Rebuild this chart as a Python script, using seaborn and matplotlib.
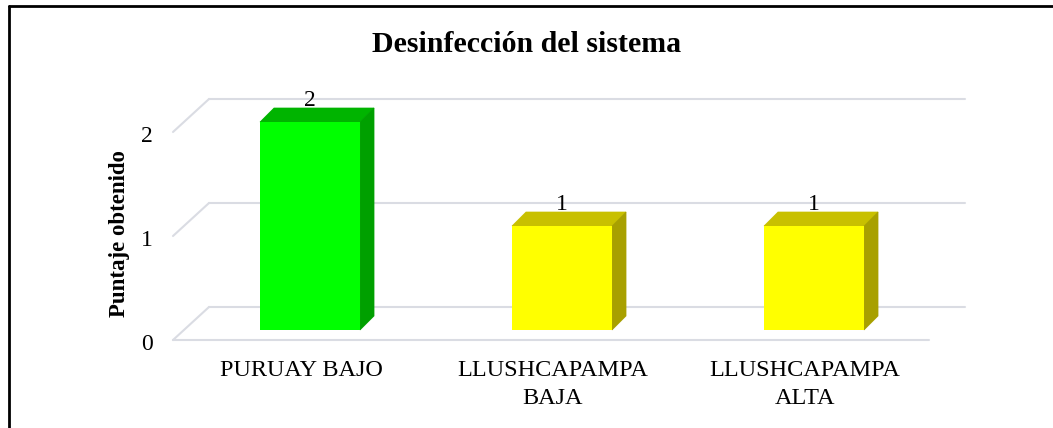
import numpy as np
import pandas as pd
import matplotlib
matplotlib.use("Agg")
import matplotlib.pyplot as plt
import seaborn as sns
from matplotlib.patches import Polygon
from matplotlib.lines import Line2D

# datos del grafico
zonas = ["PURUAY BAJO", "LLUSHCAPAMPA\nBAJA", "LLUSHCAPAMPA\nALTA"]
puntajes = [2, 1, 1]
ticks_y = [0, 1, 2]
colores = ["#00FF00", "#FFFF00", "#FFFF00"]
colores_top = ["#00B400", "#C8C000", "#C8C000"]
colores_lado = ["#00A000", "#A8A000", "#A8A000"]

df = pd.DataFrame({"zona": zonas, "puntaje": puntajes})

sns.set_style("white")
plt.rcParams["font.family"] = ["Liberation Serif", "DejaVu Serif"]
plt.rcParams["text.color"] = "black"

DPI = 100
W, H = 1053, 428
fig = plt.figure(figsize=(W / DPI, H / DPI), dpi=DPI)
ax = fig.add_axes([184 / W, (H - 330) / H, 756 / W, 208 / H])

sns.barplot(data=df, x="zona", y="puntaje", hue="zona", palette=colores,
            saturation=1, width=0.397, legend=False, ax=ax, zorder=3,
            linewidth=0)
ax.set_xlim(-0.5, 2.5)
ax.set_ylim(0, 2)
for s in ax.spines.values():
    s.set_visible(False)
ax.set_facecolor("none")
ax.set_xlabel("")
ax.set_ylabel("")
ax.set_yticks([])
ax.set_xticks([])


def shift(x, y, dx, dy):
    # desplaza un punto de datos dx, dy pixeles (efecto 3D)
    px, py = ax.transData.transform((x, y))
    return ax.transData.inverted().transform((px + dx, py + dy))


# paredes y piso (efecto 3D)
gris = "#DADCE3"
x0, x1 = ax.get_xlim()
for v in ticks_y:
    a, b = shift(x0, v, 25, 23), shift(x1, v, 25, 23)
    ax.add_line(Line2D([a[0], b[0]], [a[1], b[1]], color=gris, lw=1.5, zorder=1, clip_on=False))
    c, d = shift(x0, v, -11, -10), shift(x0, v, 25, 23)
    ax.add_line(Line2D([c[0], d[0]], [c[1], d[1]], color=gris, lw=1.5, zorder=1, clip_on=False))
    t = shift(x0, v, -31, -14)
    ax.text(t[0], t[1], str(v), ha="right", va="center", fontsize=17,
            color="black", clip_on=False)
a, b = shift(x0, 0, -11, -10), shift(x1, 0, -11, -10)
ax.add_line(Line2D([a[0], b[0]], [a[1], b[1]], color=gris, lw=1.5, zorder=1, clip_on=False))

# etiquetas de categorias (frente del piso)
for i, z in enumerate(zonas):
    t = shift(i, 0, -9, -30)
    ax.text(t[0], t[1], z, ha="center", va="top", fontsize=17.5, color="black",
            linespacing=1.45, clip_on=False)

# caras superior y lateral de las barras
D = 14
for i, p in enumerate(ax.patches):
    bx0, bx1, h = p.get_x(), p.get_x() + p.get_width(), p.get_height()
    top = [(bx0, h), (bx1, h), tuple(shift(bx1, h, D, D)), tuple(shift(bx0, h, D, D))]
    side = [(bx1, 0), (bx1, h), tuple(shift(bx1, h, D, D)), tuple(shift(bx1, 0, D, D))]
    ax.add_patch(Polygon(top, closed=True, facecolor=colores_top[i], edgecolor=colores_top[i],
                         lw=0.5, zorder=2, clip_on=False))
    ax.add_patch(Polygon(side, closed=True, facecolor=colores_lado[i], edgecolor=colores_lado[i],
                         lw=0.5, zorder=2, clip_on=False))
    ax.annotate(f"{puntajes[i]}", ((bx0 + bx1) / 2, h), xytext=(0, 16),
                textcoords="offset pixels", ha="center", va="baseline",
                fontsize=17, color="black", annotation_clip=False, zorder=5)

fig.text(0.5, 1 - 45 / H, "Desinfección del sistema", ha="center", va="center",
         fontsize=21.5, fontweight="bold", color="black")
fig.text(120 / W, 1 - 234 / H, "Puntaje obtenido", ha="center", va="center",
         rotation=90, fontsize=16.5, fontweight="bold", color="black")

# marco del grafico
fig.add_artist(Line2D([8.5 / W, 1], [1 - 6 / H, 1 - 6 / H], color="black", lw=2, transform=fig.transFigure))
fig.add_artist(Line2D([8.5 / W, 8.5 / W], [0, 1 - 6 / H], color="black", lw=2, transform=fig.transFigure))

fig.savefig("out.png", dpi=DPI, facecolor="white")
